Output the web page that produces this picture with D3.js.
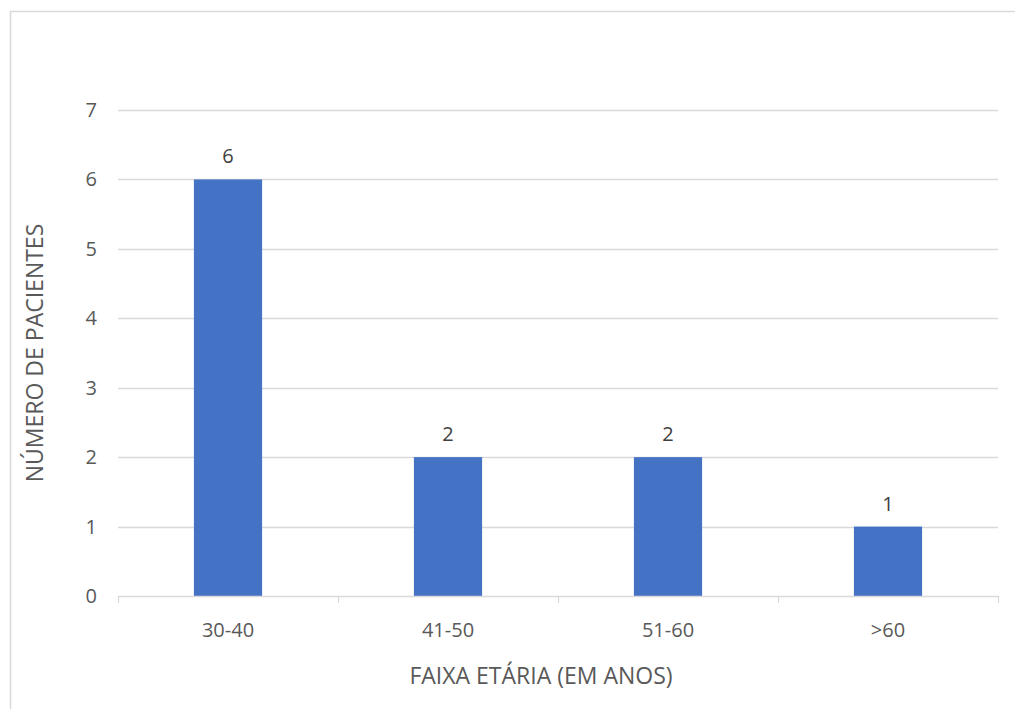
<!DOCTYPE html>
<html>
<head>
<meta charset="utf-8">
<script src="https://cdn.jsdelivr.net/npm/d3@7"></script>
<style>
  html, body { margin: 0; padding: 0; background: #fff; }
  svg { display: block; font-family: "Open Sans", "Noto Sans", sans-serif; }
</style>
</head>
<body>
<svg id="chart" width="1015" height="709"></svg>
<script>
// Patients by age group
const categories = ["30-40", "41-50", "51-60", ">60"];
const values = [6, 2, 2, 1];
const yTicks = [0, 1, 2, 3, 4, 5, 6, 7];
const xTitle = "FAIXA ETÁRIA (EM ANOS)";
const yTitle = "NÚMERO DE PACIENTES";

const svg = d3.select("#chart");
const textColor = "#595959";
const gridColor = "#d9d9d9";
const barColor = "#4472c4";

// Chart frame
svg.append("rect")
  .attr("x", 10.5).attr("y", 11.5)
  .attr("width", 1020).attr("height", 710)
  .attr("fill", "none").attr("stroke", gridColor).attr("stroke-width", 1.5);

const plot = { left: 118, right: 998, top: 110, bottom: 596 };

const x = d3.scaleBand()
  .domain(categories)
  .range([plot.left, plot.right])
  .paddingInner(0.69)
  .paddingOuter(0.345);

const y = d3.scaleLinear()
  .domain([0, 7])
  .range([plot.bottom, plot.top]);

// Horizontal gridlines
svg.append("g")
  .selectAll("line")
  .data(yTicks.filter(d => d > 0))
  .join("line")
  .attr("x1", plot.left).attr("x2", plot.right)
  .attr("y1", d => Math.round(y(d)) + 0.5).attr("y2", d => Math.round(y(d)) + 0.5)
  .attr("stroke", gridColor).attr("stroke-width", 1.3);

// Y tick labels
svg.append("g")
  .selectAll("text")
  .data(yTicks)
  .join("text")
  .attr("x", 97).attr("y", d => y(d))
  .attr("dy", "0.35em")
  .attr("text-anchor", "end")
  .attr("fill", textColor)
  .attr("font-size", 20)
  .text(d => d);

// Bars
svg.append("g")
  .selectAll("rect")
  .data(categories.map((c, i) => ({ c, v: values[i] })))
  .join("rect")
  .attr("x", d => x(d.c))
  .attr("width", x.bandwidth())
  .attr("y", d => y(d.v))
  .attr("height", d => y(0) - y(d.v))
  .attr("fill", barColor);

// Value labels
svg.append("g")
  .selectAll("text")
  .data(categories.map((c, i) => ({ c, v: values[i] })))
  .join("text")
  .attr("x", d => x(d.c) + x.bandwidth() / 2)
  .attr("y", d => y(d.v) - 16)
  .attr("text-anchor", "middle")
  .attr("fill", "#404040")
  .attr("font-size", 20)
  .text(d => d.v);

// X axis baseline with category boundary ticks
const xAxis = svg.append("g");
xAxis.append("line")
  .attr("x1", plot.left).attr("x2", plot.right)
  .attr("y1", plot.bottom + 0.5).attr("y2", plot.bottom + 0.5)
  .attr("stroke", gridColor).attr("stroke-width", 1.3);
const step = x.step();
const boundaries = d3.range(categories.length + 1).map(i => plot.left + i * step);
xAxis.selectAll("line.tick")
  .data(boundaries)
  .join("line")
  .attr("class", "tick")
  .attr("x1", d => Math.round(d) + 0.5).attr("x2", d => Math.round(d) + 0.5)
  .attr("y1", plot.bottom).attr("y2", plot.bottom + 7)
  .attr("stroke", gridColor).attr("stroke-width", 1.3);

xAxis.selectAll("text")
  .data(categories)
  .join("text")
  .attr("x", d => x(d) + x.bandwidth() / 2)
  .attr("y", 637)
  .attr("text-anchor", "middle")
  .attr("fill", textColor)
  .attr("font-size", 20)
  .text(d => d);

// Axis titles
svg.append("text")
  .attr("x", 541)
  .attr("y", 684)
  .attr("text-anchor", "middle")
  .attr("fill", textColor)
  .attr("font-size", 23)
  .text(xTitle);

svg.append("text")
  .attr("transform", `translate(43, ${(plot.top + plot.bottom) / 2}) rotate(-90)`)
  .attr("text-anchor", "middle")
  .attr("fill", textColor)
  .attr("font-size", 23)
  .text(yTitle);
</script>
</body>
</html>
